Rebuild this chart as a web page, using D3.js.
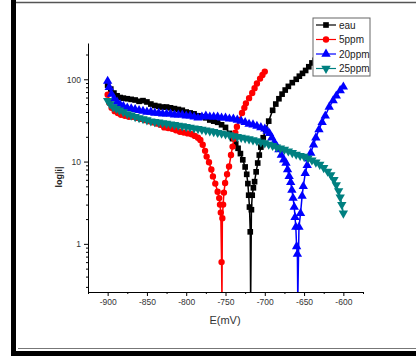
<!DOCTYPE html>
<html>
<head>
<meta charset="utf-8">
<script src="https://cdnjs.cloudflare.com/ajax/libs/d3/7.8.5/d3.min.js"></script>
<style>
  body { margin: 0; background: #fff; }
  svg { display: block; font-family: Arial, "Liberation Sans", sans-serif; }
</style>
</head>
<body>
<div id="chart"></div>
<script>
// series: [E (mV), |i|]
const eau = [[-900, 85], [-896, 76], [-892, 68], [-888, 63], [-884, 60], [-880, 59], [-875, 58], [-870, 57],
  [-865, 56], [-860, 54], [-855, 55], [-850, 53], [-845, 50], [-840, 48], [-835, 47], [-830, 46], [-825, 46],
  [-820, 45], [-815, 44], [-810, 43], [-805, 42], [-800, 40], [-795, 39], [-790, 38], [-785, 36], [-780, 35],
  [-775, 34], [-770, 32], [-765, 31], [-760, 30], [-755, 28], [-750, 26], [-745, 22], [-741, 19], [-737, 16.5],
  [-734, 14.5], [-731, 12.5], [-728, 10.5], [-725, 8.6], [-723, 7], [-721.5, 5.4], [-720.5, 3.9], [-719.5, 2.8],
  [-718.5, 1.4], [-718, 0.2], [-717, 2.6], [-716, 3.9], [-714.5, 4.8], [-713, 5.7], [-711, 7.5], [-709, 9.6],
  [-707, 12], [-705, 15], [-702, 19.5], [-699, 24.5], [-695, 31], [-690, 42], [-686, 50], [-682, 58], [-678, 66],
  [-674, 74], [-670, 82], [-665, 91], [-660, 100], [-656, 109], [-652, 118], [-648, 128], [-644, 142], [-640, 158],
  [-636, 170], [-632, 182], [-628, 195]];

const ppm5 = [[-900, 65], [-898, 52], [-895, 45], [-891, 41], [-887, 39], [-883, 37], [-878, 36], [-873, 35],
  [-868, 35], [-863, 34], [-858, 33], [-853, 32], [-848, 31], [-843, 30], [-838, 29], [-833, 28], [-828, 26],
  [-823, 25.5], [-818, 25], [-813, 24], [-808, 23], [-803, 22.5], [-798, 22], [-793, 21.5], [-789, 20.5],
  [-785, 19.5], [-782, 18.3], [-779, 16], [-776, 13.5], [-774, 11.5], [-771, 9.8], [-768, 8], [-766, 6.6],
  [-763, 5.4], [-760, 4.3], [-758, 3.6], [-757, 3], [-756, 2.4], [-755, 0.6], [-754.5, 0.2], [-754, 2.05],
  [-753, 3], [-752, 4.2], [-750.5, 5.5], [-748, 7], [-745.5, 8.7], [-743, 12], [-741, 15.2], [-739, 19],
  [-737.5, 22.5], [-735.5, 26.5], [-732.5, 32], [-729, 39], [-726, 45], [-724, 51], [-720, 59], [-716, 68],
  [-713, 78], [-710, 89], [-706, 102], [-703, 113], [-700, 124]];

const ppm20 = [[-900, 95], [-898, 80], [-895, 66], [-892, 58], [-888, 53], [-884, 49], [-880, 47], [-875, 45],
  [-870, 44], [-865, 43], [-860, 42], [-855, 41], [-850, 40], [-845, 40], [-840, 39], [-835, 39], [-830, 38],
  [-825, 38], [-820, 38], [-815, 37], [-810, 37], [-805, 37], [-800, 36], [-795, 36], [-790, 35], [-785, 34],
  [-780, 35], [-775, 36], [-770, 35], [-765, 35], [-760, 35], [-755, 34], [-750, 34], [-745, 33], [-740, 33],
  [-735, 32], [-730, 31], [-725, 30], [-720, 28.5], [-715, 28], [-710, 27], [-705, 26], [-700, 25], [-697, 23.5],
  [-694, 22], [-691, 19.5], [-688, 17], [-685, 15.5], [-682, 14], [-679, 12], [-676, 10.5], [-673, 9.6], [-671, 8],
  [-669, 6.6], [-667, 5.6], [-665.5, 4.5], [-664, 3.6], [-662.5, 2.8], [-661.5, 2.1], [-660.5, 1.6], [-659.5, 0.93],
  [-658.5, 0.75], [-658, 0.2], [-656.5, 1.6], [-654.5, 2.35], [-652.5, 3.8], [-651, 5], [-648.5, 7.2], [-646, 9],
  [-644, 10.8], [-641.5, 12.7], [-638, 16], [-635, 19.5], [-631, 24.5], [-627, 30], [-623, 36], [-618, 46],
  [-613, 55], [-609, 63], [-604, 73], [-600, 81]];

const ppm25 = [[-900, 55], [-897, 50], [-893, 46], [-889, 44], [-885, 42], [-880, 40], [-875, 38], [-870, 36.5],
  [-865, 35], [-860, 34], [-855, 33], [-850, 32], [-845, 31], [-840, 30.5], [-835, 30], [-830, 29.5], [-825, 29],
  [-820, 28.5], [-815, 28], [-810, 27.5], [-805, 27], [-800, 26.5], [-795, 26], [-790, 25.5], [-785, 25],
  [-780, 24.5], [-775, 24], [-770, 23.5], [-765, 23], [-760, 22.5], [-755, 22], [-750, 21.5], [-745, 21],
  [-740, 20.5], [-735, 20], [-730, 19.6], [-725, 19.2], [-720, 18.8], [-715, 18.3], [-710, 17.8], [-705, 17.2],
  [-700, 16.8], [-695, 16.2], [-690, 15.6], [-685, 15], [-680, 14.5], [-675, 14], [-670, 13.4], [-665, 12.8],
  [-660, 12.2], [-655, 11.8], [-650, 11.5], [-645, 11], [-640, 10.4], [-635, 9.8], [-630, 9.2], [-625, 8.4],
  [-620, 7.6], [-616, 6.9], [-612, 6], [-609, 5.2], [-606, 4.4], [-604, 3.7], [-602, 3], [-600, 2.35]];

const seriesNames = ["eau", "5ppm", "20ppm", "25ppm"];
const seriesColors = ["#000000", "#ff0000", "#0000ff", "#008080"];
const xTicks = [-900, -850, -800, -750, -700, -650, -600];
const yTicks = [1, 10, 100];

const width = 416, height = 360;

const svg = d3.select("#chart").append("svg")
    .attr("width", width)
    .attr("height", height);

// outer frame of the scanned figure
svg.append("rect").attr("x", 11).attr("y", 0).attr("width", 5).attr("height", 354).attr("fill", "#000");
svg.append("line").attr("x1", 16).attr("x2", width).attr("y1", 2.5).attr("y2", 2.5)
    .attr("stroke", "#555").attr("stroke-width", 1.5);
svg.append("line").attr("x1", 18).attr("x2", width).attr("y1", 348.5).attr("y2", 348.5)
    .attr("stroke", "#777").attr("stroke-width", 1);
svg.append("rect").attr("x", 11).attr("y", 351).attr("width", width - 11).attr("height", 5).attr("fill", "#000");

const x = d3.scaleLinear().domain([-925, -575]).range([88, 363]);
const y = d3.scaleLog().domain([0.26, 276]).range([292, 43]);

svg.append("clipPath").attr("id", "plotClip")
  .append("rect")
    .attr("x", 88).attr("y", 43).attr("width", 275).attr("height", 249);

// axes
const xMinor = d3.range(-925, -574, 25).filter(v => !xTicks.includes(v));
svg.append("g")
    .attr("transform", "translate(0,292)")
    .call(d3.axisBottom(x).tickValues(xMinor).tickSize(2).tickFormat("").tickSizeOuter(0))
    .call(g => g.select(".domain").remove());

svg.append("g")
    .attr("class", "xaxis")
    .attr("transform", "translate(0,292)")
    .call(d3.axisBottom(x).tickValues(xTicks).tickSize(4).tickSizeOuter(0).tickFormat(d => String(d)));

const yMinor = [];
[0.1, 1, 10, 100].forEach(dec => {
    for (let k = 2; k <= 9; k++) {
        const v = dec * k;
        if (v >= 0.26 && v <= 276) yMinor.push(v);
    }
});
svg.append("g")
    .attr("transform", "translate(88,0)")
    .call(d3.axisLeft(y).tickValues(yMinor).tickSize(2).tickFormat("").tickSizeOuter(0))
    .call(g => g.select(".domain").remove());

svg.append("g")
    .attr("class", "yaxis")
    .attr("transform", "translate(88,0)")
    .call(d3.axisLeft(y).tickValues(yTicks).tickSize(4).tickSizeOuter(0).tickFormat(d => String(d)));

svg.selectAll(".xaxis text, .yaxis text")
    .attr("font-size", "8.5px")
    .attr("fill", "#333");
svg.selectAll(".domain").attr("stroke", "#000");

svg.append("text")
    .attr("x", 225)
    .attr("y", 324)
    .attr("text-anchor", "middle")
    .attr("font-size", "11px")
    .attr("fill", "#333")
    .text("E(mV)");

svg.append("text")
    .attr("transform", "translate(62,177) rotate(-90)")
    .attr("text-anchor", "middle")
    .attr("font-size", "9px")
    .attr("font-weight", "bold")
    .attr("fill", "#222")
    .text("log|i|");

// markers
const symbols = [d3.symbolSquare, d3.symbolCircle, d3.symbolTriangle, d3.symbolTriangle];
const symbolSizes = [32, 32, 38, 38];
const rotations = [0, 0, 0, 180];

function markerPath(i) {
    return d3.symbol().type(symbols[i]).size(symbolSizes[i])();
}

const allSeries = [eau, ppm5, ppm20, ppm25];
const line = d3.line().x(d => x(d[0])).y(d => y(d[1]));

const plot = svg.append("g").attr("clip-path", "url(#plotClip)");

allSeries.forEach((data, i) => {
    const g = plot.append("g");
    g.append("path")
        .datum(data)
        .attr("d", line)
        .attr("fill", "none")
        .attr("stroke", seriesColors[i])
        .attr("stroke-width", 1.5);
    g.selectAll("path.pt")
        .data(data.filter(d => d[1] > 0.26))
        .enter()
        .append("path")
        .attr("class", "pt")
        .attr("d", markerPath(i))
        .attr("transform", d => `translate(${x(d[0])},${y(d[1])}) rotate(${rotations[i]})`)
        .attr("fill", seriesColors[i]);
});

// legend
const legend = svg.append("g");
legend.append("rect")
    .attr("x", 313).attr("y", 18).attr("width", 57).attr("height", 58)
    .attr("fill", "#fff").attr("stroke", "#666").attr("stroke-width", 1);

seriesNames.forEach((name, i) => {
    const ly = 25 + i * 14.5;
    legend.append("line")
        .attr("x1", 316).attr("x2", 336).attr("y1", ly).attr("y2", ly)
        .attr("stroke", seriesColors[i]).attr("stroke-width", 1.2);
    legend.append("path")
        .attr("d", markerPath(i))
        .attr("transform", `translate(326,${ly}) rotate(${rotations[i]})`)
        .attr("fill", seriesColors[i]);
    legend.append("text")
        .attr("x", 339)
        .attr("y", ly + 3.5)
        .attr("font-size", "10px")
        .attr("fill", "#222")
        .text(name);
});
</script>
</body>
</html>
